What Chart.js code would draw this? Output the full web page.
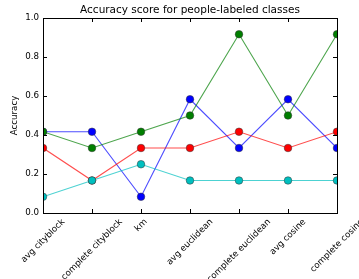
<!DOCTYPE html>
<html lang="en">
<head>
    <meta charset="UTF-8">
    <title>Accuracy score for people-labeled classes</title>
    <script src="https://cdn.jsdelivr.net/npm/chart.js"></script>
    <style>
        body{
            margin: 0;
            background: #fff;
        }
        #wrap{
            width: 359px;
            height: 279px;
        }
    </style>
</head>
<body>
    <div id="wrap"><canvas id="accChart" width="359" height="279"></canvas></div>

    <script>
        const methods = ['avg cityblock', 'complete cityblock', 'km', 'avg euclidean', 'complete euclidean', 'avg cosine', 'complete cosine'];
        const blueScores  = [0.4167, 0.4167, 0.0833, 0.5833, 0.3333, 0.5833, 0.3333];
        const greenScores = [0.4167, 0.3333, 0.4167, 0.5000, 0.9167, 0.5000, 0.9167];
        const redScores   = [0.3333, 0.1667, 0.3333, 0.3333, 0.4167, 0.3333, 0.4167];
        const cyanScores  = [0.0833, 0.1667, 0.2500, 0.1667, 0.1667, 0.1667, 0.1667];
        const yTicks = [0.0, 0.2, 0.4, 0.6, 0.8, 1.0];
        const chartTitle = 'Accuracy score for people-labeled classes';

        const FONT = 'DejaVu Sans';
        const TICK_SIZE = 8.7;

        function series(data, color, lineColor, order) {
            return {
                data: data,
                borderColor: lineColor,
                backgroundColor: color,
                pointBackgroundColor: color,
                pointBorderColor: '#333',
                pointBorderWidth: 0.5,
                pointRadius: 3.8,
                borderWidth: 1.1,
                tension: 0,
                clip: 0,
                order: order
            };
        }

        // frame, inward ticks, title over the axes and centred 45 degree x labels like matplotlib
        const mplAxes = {
            id: 'mplAxes',
            afterDraw(chart) {
                const c = chart.ctx;
                const a = chart.chartArea;
                const xs = chart.scales.x, ys = chart.scales.y;
                c.save();
                c.strokeStyle = '#000';
                c.lineWidth = 1;
                c.strokeRect(Math.round(a.left) + 0.5, Math.round(a.top) + 0.5,
                    Math.round(a.right - a.left), Math.round(a.bottom - a.top));
                c.beginPath();
                yTicks.forEach(v => {
                    const y = Math.round(ys.getPixelForValue(v)) + 0.5;
                    c.moveTo(a.left, y); c.lineTo(a.left + 4, y);
                    c.moveTo(a.right, y); c.lineTo(a.right - 4, y);
                });
                methods.forEach((m, i) => {
                    const x = Math.round(xs.getPixelForTick(i)) + 0.5;
                    c.moveTo(x, a.bottom); c.lineTo(x, a.bottom - 4);
                    c.moveTo(x, a.top); c.lineTo(x, a.top + 4);
                });
                c.stroke();

                c.fillStyle = '#000';
                c.textAlign = 'center';
                c.textBaseline = 'middle';
                c.font = '10.5px "' + FONT + '"';
                c.fillText(chartTitle, (a.left + a.right) / 2, 10);

                c.font = TICK_SIZE + 'px "' + FONT + '"';
                const h = TICK_SIZE * 1.15;
                methods.forEach((m, i) => {
                    const w = c.measureText(m).width;
                    const box = (w + h) * Math.SQRT1_2;
                    const x = xs.getPixelForTick(i);
                    const y = a.bottom + 4 + box / 2;
                    c.save();
                    c.translate(x, y);
                    c.rotate(-Math.PI / 4);
                    c.fillText(m, 0, 0);
                    c.restore();
                });
                c.restore();
            }
        };

        const ctx = document.getElementById('accChart').getContext('2d');
        const accChart = new Chart(ctx, {
            type: 'line',
            data: {
                labels: methods,
                datasets: [
                    series(blueScores, '#0000ff', 'rgba(0, 0, 255, 0.7)', 4),
                    series(greenScores, '#007f00', 'rgba(0, 127, 0, 0.7)', 3),
                    series(redScores, '#ff0000', 'rgba(255, 0, 0, 0.7)', 2),
                    series(cyanScores, '#00bfbf', 'rgba(0, 191, 191, 0.7)', 1)
                ]
            },
            options: {
                responsive: false,
                animation: false,
                events: [],
                layout: {
                    padding: { left: 10, right: 22, top: 18, bottom: 0 }
                },
                plugins: {
                    legend: { display: false },
                    tooltip: { enabled: false },
                    title: { display: false }
                },
                scales: {
                    x: {
                        type: 'category',
                        offset: false,
                        grid: { display: false, drawTicks: false },
                        border: { display: false },
                        ticks: { display: false },
                        afterFit: s => { s.height = 66; }
                    },
                    y: {
                        min: 0,
                        max: 1,
                        grid: { display: false, drawTicks: false },
                        border: { display: false },
                        ticks: {
                            stepSize: 0.2,
                            padding: 4,
                            color: '#000',
                            font: { family: FONT, size: TICK_SIZE },
                            callback: v => v.toFixed(1)
                        },
                        title: {
                            display: true,
                            text: 'Accuracy',
                            color: '#000',
                            padding: 0,
                            font: { family: FONT, size: TICK_SIZE }
                        },
                        afterFit: s => { s.width = 33; }
                    }
                }
            },
            plugins: [mplAxes]
        });
    </script>
</body>
</html>
